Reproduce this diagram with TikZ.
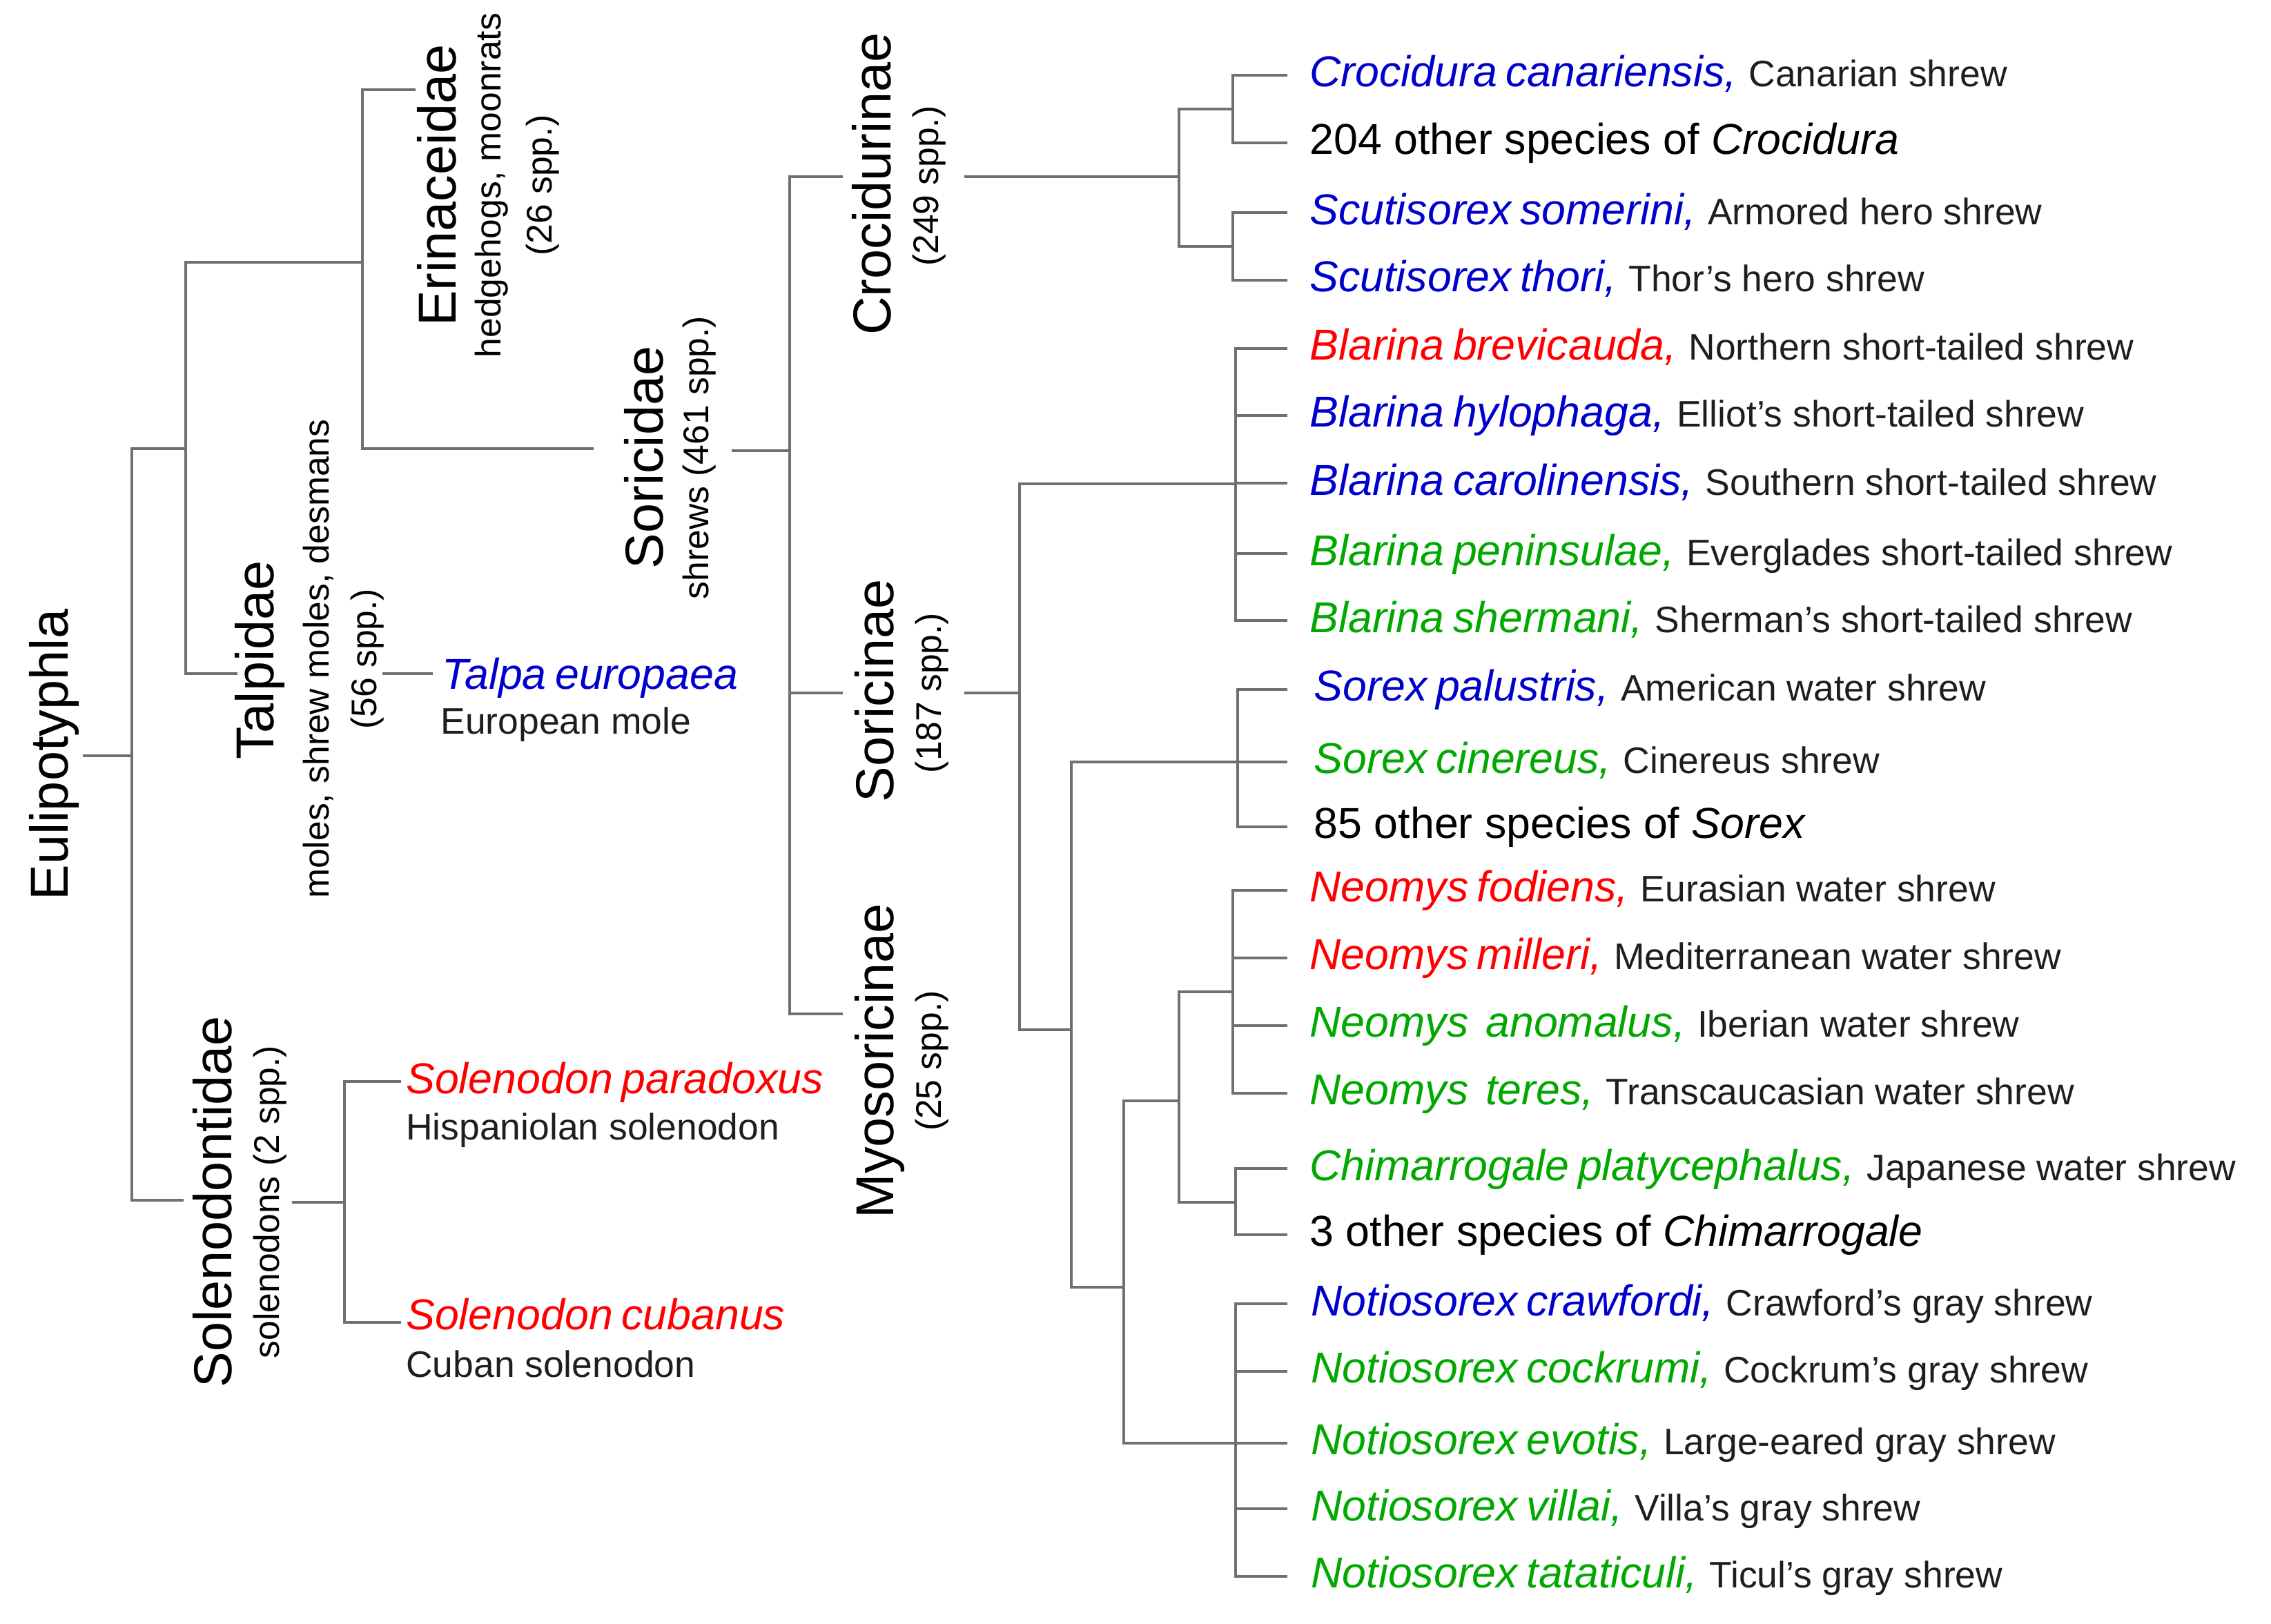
\documentclass[tikz,border=0pt]{standalone}
\usepackage{fontspec}
\setmainfont{Liberation Sans}
\definecolor{blu}{RGB}{0,0,204}
\definecolor{rd}{RGB}{255,0,0}
\definecolor{grn}{RGB}{0,168,0}
\definecolor{lg}{RGB}{112,112,112}
\definecolor{txt}{RGB}{30,30,30}
\newcommand{\cmn}{\fontsize{14.5}{14.5}\selectfont\upshape\color{txt}}
\newcommand{\spc}[2]{{\color{#1}\itshape\spaceskip=0.2em #2}}
\tikzset{
  br/.style={draw=lg, line width=1.1pt},
  big/.style={rotate=90, anchor=base, inner sep=0pt, font=\fontsize{21}{21}\selectfont},
  sub/.style={rotate=90, anchor=base, inner sep=0pt, font=\fontsize{14}{14}\selectfont},
  spn/.style={anchor=base west, inner sep=0pt, font=\fontsize{17}{17}\selectfont},
  cmnn/.style={anchor=base west, inner sep=0pt, font=\fontsize{14.5}{14.5}\selectfont, text=txt},
}
\begin{document}
\begin{tikzpicture}[x=0.02cm, y=-0.02cm]
\useasboundingbox (0,0) rectangle (1568,1121);
% ---------- labels (rotated) ----------
\node[big] (eul) at (47,521) {Eulipotyphla};
\node[big] (eri) at (315,128) {Erinaceidae};
\node[sub] (eri2) at (346,128) {hedgehogs, moonrats};
\node[sub] (eri3) at (381,128) {(26 spp.)};
\node[big] (sor) at (458,316) {Soricidae};
\node[sub] (sor2) at (489,316) {shrews (461 spp.)};
\node[big] (tal) at (189,456) {Talpidae};
\node[sub] (tal2) at (227,455) {moles, shrew moles, desmans};
\node[sub] (tal3) at (260,455) {(56 spp.)};
\node[big] (sol) at (160,830) {Solenodontidae};
\node[sub] (sol2) at (193,830) {solenodons (2 spp.)};
\node[big] (cro) at (615,127) {Crocidurinae};
\node[sub] (cro2) at (648,128.5) {(249 spp.)};
\node[big] (sori) at (617,477) {Soricinae};
\node[sub] (sori2) at (650,478.5) {(187 spp.)};
\node[big] (myo) at (617,732.7) {Myosoricinae};
\node[sub] (myo2) at (650,732.6) {(25 spp.)};
% ---------- left leaves ----------
\node[spn] (talpa) at (305,476) {\spc{blu}{Talpa europaea}};
\node[cmnn] (talpa2) at (304,507) {European mole};
\node[spn] (solp) at (280,755) {\spc{rd}{Solenodon paradoxus}};
\node[cmnn] (solp2) at (280,787) {Hispaniolan solenodon};
\node[spn] (solc) at (280,918) {\spc{rd}{Solenodon cubanus}};
\node[cmnn] (solc2) at (280,951) {Cuban solenodon};
% ---------- species list ----------
\node[spn] (s1) at (904,60) {\spc{blu}{Crocidura canariensis,} {\cmn Canarian shrew}};
\node[spn] (s2) at (904,106.5) {204 other species of \textit{Crocidura}};
\node[spn] (s3) at (904,155) {\spc{blu}{Scutisorex somerini,} {\cmn Armored hero shrew}};
\node[spn] (s4) at (904,201.4) {\spc{blu}{Scutisorex thori,} {\cmn Thor’s hero shrew}};
\node[spn] (s5) at (904,248.7) {\spc{rd}{Blarina brevicauda,} {\cmn Northern short-tailed shrew}};
\node[spn] (s6) at (904,295) {\spc{blu}{Blarina hylophaga,} {\cmn Elliot’s short-tailed shrew}};
\node[spn] (s7) at (904,341.8) {\spc{blu}{Blarina carolinensis,} {\cmn Southern short-tailed shrew}};
\node[spn] (s8) at (904,390.4) {\spc{grn}{Blarina peninsulae,} {\cmn Everglades short-tailed shrew}};
\node[spn] (s9) at (904,436.6) {\spc{grn}{Blarina shermani,} {\cmn Sherman’s short-tailed shrew}};
\node[spn] (s10) at (907,484) {\spc{blu}{Sorex palustris,} {\cmn American water shrew}};
\node[spn] (s11) at (907,534) {\spc{grn}{Sorex cinereus,} {\cmn Cinereus shrew}};
\node[spn] (s12) at (907,578.8) {85 other species of \textit{Sorex}};
\node[spn] (s13) at (904,622.6) {\spc{rd}{Neomys fodiens,} {\cmn Eurasian water shrew}};
\node[spn] (s14) at (904,669.4) {\spc{rd}{Neomys milleri,} {\cmn Mediterranean water shrew}};
\node[spn] (s15) at (904,716.3) {\spc{grn}{Neomys\ \ anomalus,} {\cmn Iberian water shrew}};
\node[spn] (s16) at (904,762.8) {\spc{grn}{Neomys\ \ teres,} {\cmn Transcaucasian water shrew}};
\node[spn] (s17) at (904,815) {\spc{grn}{Chimarrogale platycephalus,} {\cmn Japanese water shrew}};
\node[spn] (s18) at (904,860.6) {3 other species of \textit{Chimarrogale}};
\node[spn] (s19) at (905,908.4) {\spc{blu}{Notiosorex crawfordi,} {\cmn Crawford’s gray shrew}};
\node[spn] (s20) at (905,954.9) {\spc{grn}{Notiosorex cockrumi,} {\cmn Cockrum’s gray shrew}};
\node[spn] (s21) at (905,1004.4) {\spc{grn}{Notiosorex evotis,} {\cmn Large-eared gray shrew}};
\node[spn] (s22) at (905,1050) {\spc{grn}{Notiosorex villai,} {\cmn Villa’s gray shrew}};
\node[spn] (s23) at (905,1096.5) {\spc{grn}{Notiosorex tataticuli,} {\cmn Ticul’s gray shrew}};
% ---------- tree coordinates ----------
\coordinate (eulT) at (57,522);
\coordinate (R) at (91,522);
\coordinate (N1) at (128,310);
\coordinate (solT) at (127,829);
\coordinate (N2) at (250,181);
\coordinate (talT) at (164,465);
\coordinate (eriT) at (287,62);
\coordinate (sorT) at (410,310);
\coordinate (sorR) at (505,311);
\coordinate (S) at (545,311);
\coordinate (croT) at (582,122);
\coordinate (soriT) at (582,478.6);
\coordinate (myoT) at (582,700);
\coordinate (talR) at (264,465);
\coordinate (talE) at (299,465);
\coordinate (solR) at (201.5,830);
\coordinate (SN) at (238,830);
\coordinate (spT) at (277,747);
\coordinate (scT) at (277,913);
\coordinate (croR) at (666,122);
\coordinate (C1) at (814,122);
\coordinate (C2) at (851,75.5);
\coordinate (C3) at (851,170);
\coordinate (soriR) at (666,478.6);
\coordinate (B0) at (704,478.6);
\coordinate (Bl) at (853,334);
\coordinate (B1) at (739.5,711);
\coordinate (Sx) at (854.6,526);
\coordinate (B2) at (776,889);
\coordinate (B3) at (814,760);
\coordinate (Nt) at (853,996.4);
\coordinate (Ne) at (851,685);
\coordinate (Ch) at (853,830);
\foreach \i/\y in {1/52,2/98.5,3/147,4/193.4,5/240.7,6/287,7/333.8,8/382.4,9/428.6,10/476,11/526,12/570.8,13/614.6,14/661.4,15/708.3,16/754.8,17/807,18/852.6,19/900.4,20/946.9,21/996.4,22/1042,23/1088.5}
  \coordinate (t\i) at (889,\y);
% ---------- tree ----------
\draw[br] (eulT) -- (R);
\draw[br] (R) |- (N1);
\draw[br] (R) |- (solT);
\draw[br] (N1) |- (N2);
\draw[br] (N1) |- (talT);
\draw[br] (N2) |- (eriT);
\draw[br] (N2) |- (sorT);
\draw[br] (sorR) -- (S);
\draw[br] (S) |- (croT);
\draw[br] (S) |- (soriT);
\draw[br] (S) |- (myoT);
\draw[br] (talR) -- (talE);
\draw[br] (solR) -- (SN);
\draw[br] (SN) |- (spT);
\draw[br] (SN) |- (scT);
\draw[br] (croR) -- (C1);
\draw[br] (C1) |- (C2);
\draw[br] (C1) |- (C3);
\draw[br] (C2) |- (t1);
\draw[br] (C2) |- (t2);
\draw[br] (C3) |- (t3);
\draw[br] (C3) |- (t4);
\draw[br] (soriR) -- (B0);
\draw[br] (B0) |- (Bl);
\draw[br] (B0) |- (B1);
\foreach \i in {5,...,9} \draw[br] (Bl) |- (t\i);
\draw[br] (B1) |- (Sx);
\draw[br] (B1) |- (B2);
\foreach \i in {10,11,12} \draw[br] (Sx) |- (t\i);
\draw[br] (B2) |- (B3);
\draw[br] (B2) |- (Nt);
\draw[br] (B3) |- (Ne);
\draw[br] (B3) |- (Ch);
\foreach \i in {13,...,16} \draw[br] (Ne) |- (t\i);
\foreach \i in {17,18} \draw[br] (Ch) |- (t\i);
\foreach \i in {19,...,23} \draw[br] (Nt) |- (t\i);
\end{tikzpicture}
\end{document}
